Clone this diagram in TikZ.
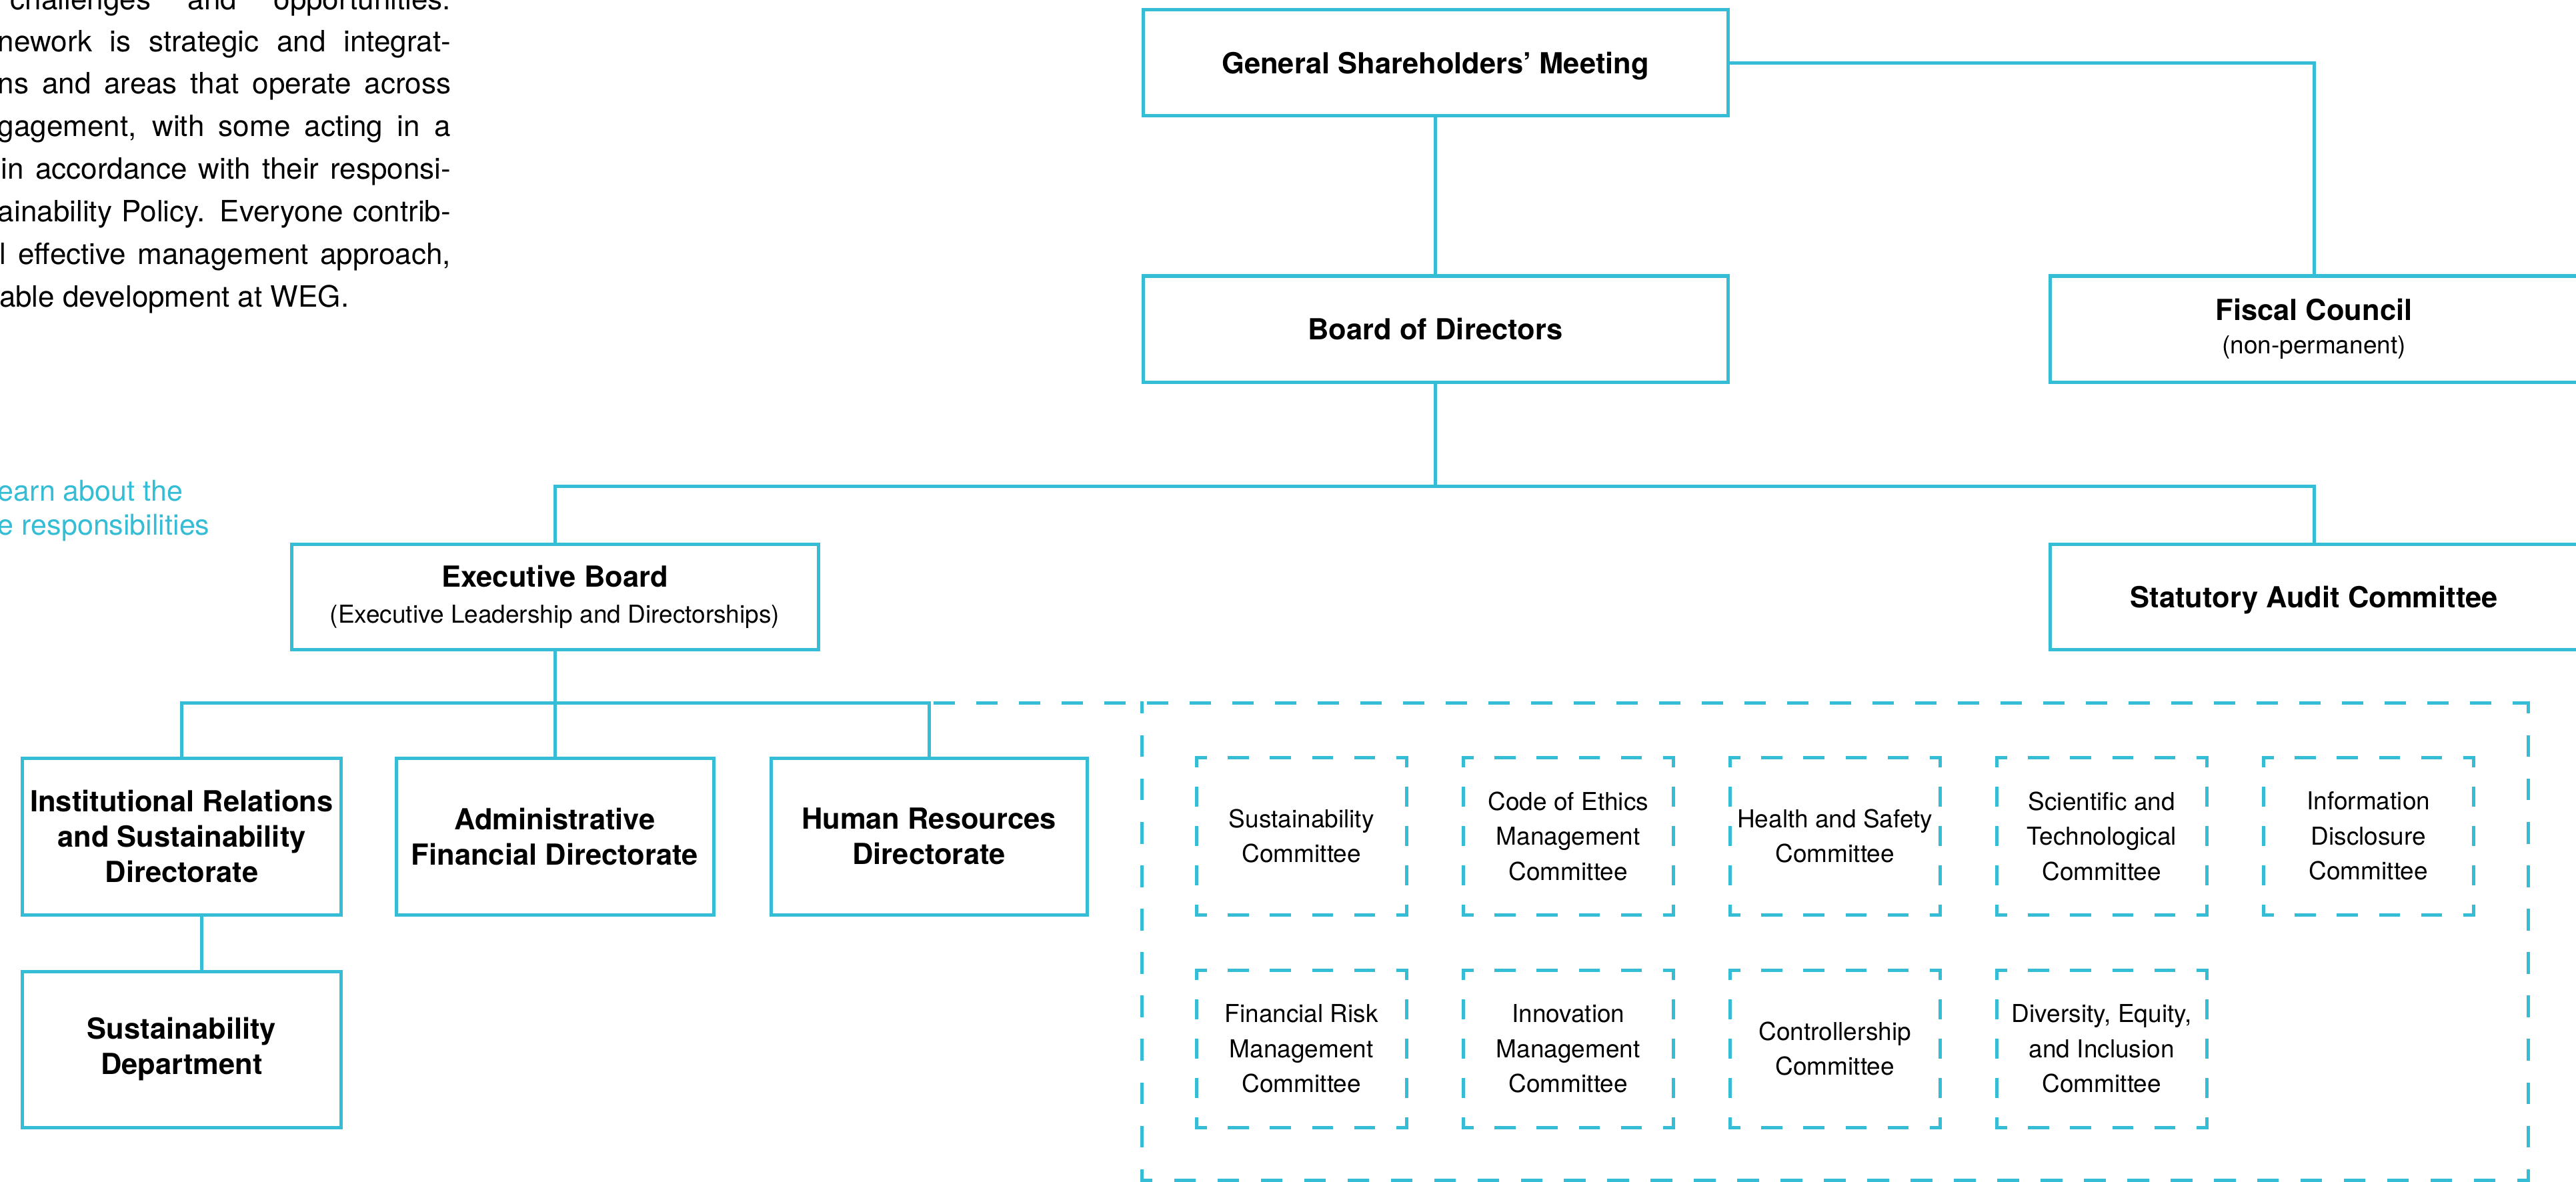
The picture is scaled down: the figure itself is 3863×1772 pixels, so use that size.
\documentclass[tikz,border=0pt]{standalone}
\usepackage{fontspec}
\setmainfont{TeX Gyre Heros}
\definecolor{weg}{RGB}{52,189,212}
\newcommand{\wegdash}[3]{%
  \pgfmathsetmacro{\dsP}{0.2*#3/max(1,round(#3/64))}%
  \pgfmathsetmacro{\dsOn}{\dsP/2-1}%
  \pgfmathsetmacro{\dsOff}{\dsP/2+1}%
  \pgfmathsetmacro{\dsPh}{\dsP/4-0.5}%
  \draw[dline, dash pattern=on \dsOn pt off \dsOff pt, dash phase=\dsPh pt] #1 -- #2;%
}
\tikzset{
  box/.style={draw=weg, line width=1pt, inner sep=0pt, outer sep=0pt, align=center,
    font=\bfseries\fontsize{8.7}{10.6}\selectfont},
  cbox/.style={inner sep=0pt, outer sep=0pt, align=center,
    font=\fontsize{7.4}{10.5}\selectfont, minimum width=63.1pt, minimum height=47.2pt},
  link/.style={draw=weg, line width=1pt},
  dline/.style={draw=weg, line width=1pt, line cap=rect},
  para/.style={inner sep=0pt, outer sep=0pt, font=\fontsize{8.8}{12}\selectfont},
  cyantext/.style={inner sep=0pt, outer sep=0pt, text=weg, font=\fontsize{8.6}{10}\selectfont},
}
\begin{document}
\begin{tikzpicture}[x=0.2pt, y=-0.2pt]
\useasboundingbox (0,0) rectangle (3863,1772);

% paragraph text (clipped at left)
\node[para, anchor=base east] (t1) at (676,15) {\makebox[132pt][s]{challenges and opportunities.}};
\node[para, anchor=base east] (t2) at (676,78) {\makebox[135.8pt][s]{nework is strategic and integrat-}};
\node[para, anchor=base east] (t3) at (676,141) {\makebox[135.8pt][s]{ns and areas that operate across}};
\node[para, anchor=base east] (t4) at (676,205) {\makebox[135.8pt][s]{gagement, with some acting in a}};
\node[para, anchor=base east] (t5) at (676,268) {\makebox[134.8pt][s]{in accordance with their responsi-}};
\node[para, anchor=base east] (t6) at (676,332) {\makebox[135.8pt][s]{ainability Policy. Everyone contrib-}};
\node[para, anchor=base east] (t7) at (676,396) {\makebox[135.2pt][s]{l effective management approach,}};
\node[para, anchor=base west] (t8) at (-1,460) {able development at WEG.};

\node[cyantext, anchor=base west] (l1) at (-3,751) {earn about the};
\node[cyantext, anchor=base west] (l2) at (-3,802) {e responsibilities};

% solid boxes
\node[box, minimum width=175.4pt, minimum height=31.8pt, text depth=0pt] (gsm) at (2152.5,94.5) {General Shareholders’ Meeting};
\node[box, minimum width=175.4pt, minimum height=31.8pt] (bod) at (2152.5,493.5) {Board of Directors};
\node[box, minimum width=158.4pt, minimum height=31.8pt, font=\bfseries\fontsize{8.7}{10}\selectfont] (fiscal) at (3470,493.5) {Fiscal Council\\{\mdseries\fontsize{7.4}{10}\selectfont (non-permanent)}};
\node[box, minimum width=158pt, minimum height=31.6pt, font=\bfseries\fontsize{8.7}{10.8}\selectfont] (exec) at (832,895) {Executive Board\\{\mdseries\fontsize{7.4}{10.8}\selectfont (Executive Leadership and Directorships)}};
\node[box, minimum width=158.4pt, minimum height=31.6pt, text depth=0pt] (sac) at (3470,895) {Statutory Audit Committee};

\node[box, minimum width=95.4pt, minimum height=47pt] (ir) at (272.5,1254.5) {Institutional Relations\\and Sustainability\\Directorate};
\node[box, minimum width=95.2pt, minimum height=47pt] (af) at (832,1254.5) {Administrative\\Financial Directorate};
\node[box, minimum width=94.8pt, minimum height=47pt] (hr) at (1393,1254.5) {Human Resources\\Directorate};
\node[box, minimum width=95.4pt, minimum height=46.8pt] (sd) at (272.5,1574) {Sustainability\\Department};

% committees
\node[cbox] (c1) at (1951.75,1254) {Sustainability\\Committee};
\node[cbox] (c2) at (2351.75,1254) {Code of Ethics\\Management\\Committee};
\node[cbox] (c3) at (2751.75,1254) {Health and Safety\\Committee};
\node[cbox] (c4) at (3151.75,1254) {Scientific and\\Technological\\Committee};
\node[cbox] (c5) at (3551.75,1254) {Information\\Disclosure\\Committee};
\node[cbox] (c6) at (1951.75,1573) {Financial Risk\\Management\\Committee};
\node[cbox] (c7) at (2351.75,1573) {Innovation\\Management\\Committee};
\node[cbox] (c8) at (2751.75,1573) {Controllership\\Committee};
\node[cbox] (c9) at (3151.75,1573) {Diversity, Equity,\\and Inclusion\\Committee};

\foreach \c in {c1,c2,c3,c4,c5,c6,c7,c8,c9}{
  \wegdash{(\c.north west)}{(\c.north east)}{315.5}
  \wegdash{(\c.north east)}{(\c.south east)}{236}
  \wegdash{(\c.south east)}{(\c.south west)}{315.5}
  \wegdash{(\c.south west)}{(\c.north west)}{236}
}

% big dashed frame
\coordinate (bbnw) at (1712,1054);
\coordinate (bbne) at (3791,1054);
\coordinate (bbsw) at (1712,1770);
\coordinate (bbse) at (3791,1770);
\wegdash{(bbnw)}{(bbsw)}{716}
\wegdash{(bbsw)}{(bbse)}{2079}
\wegdash{(bbse)}{(bbne)}{716}

% connectors
\coordinate (j1) at (2152.5,729);
\coordinate (j2) at (832,1054);
\coordinate (irsd) at (302,1372);
\draw[link] (gsm.east) -- (gsm.east -| fiscal.north) -- (fiscal.north);
\draw[link] (gsm.south) -- (bod.north);
\draw[link] (bod.south) -- (j1);
\draw[link] (exec.north) -- (exec.north |- j1) -- (sac.north |- j1) -- (sac.north);
\draw[link] (exec.south) -- (af.north);
\draw[link] (ir.north) -- (ir.north |- j2) -- (hr.north |- j2) -- (hr.north);
\draw[link] (irsd) -- (irsd |- sd.north);
\draw[dline, dash pattern=on 5.4pt off 7.4pt, dash phase=10.9pt] (hr.north |- j2) -- (bbne);
\end{tikzpicture}
\end{document}
